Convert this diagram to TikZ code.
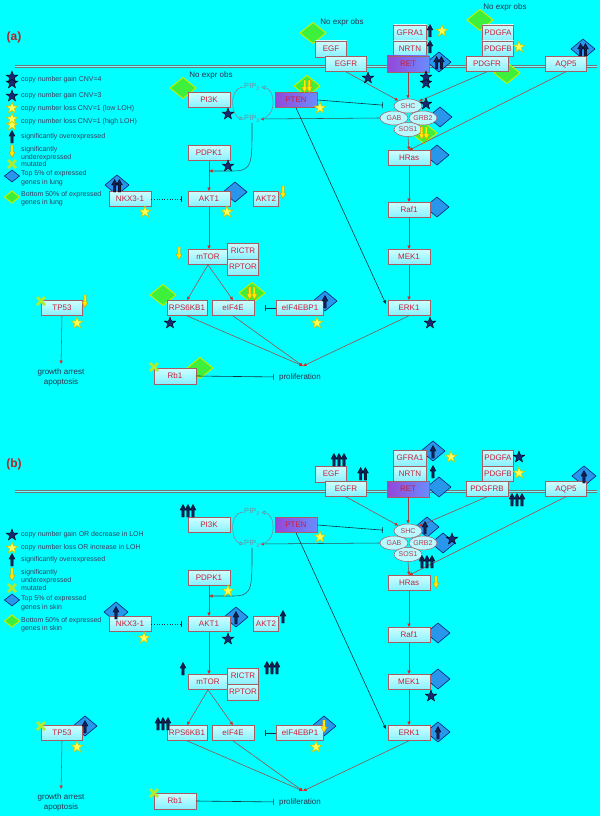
\documentclass[tikz,border=0pt]{standalone}
\usepackage{fontspec}
\setmainfont{Liberation Sans}
\usetikzlibrary{shapes.geometric,arrows.meta}

\definecolor{bgc}{RGB}{0,255,255}
\definecolor{boxtop}{RGB}{205,255,255}
\definecolor{boxbot}{RGB}{135,240,255}
\definecolor{boxline}{RGB}{165,95,100}
\definecolor{genetxt}{RGB}{205,30,55}
\definecolor{edgec}{RGB}{160,70,70}
\definecolor{tipc}{RGB}{230,30,30}
\definecolor{darkc}{RGB}{20,50,60}
\definecolor{legc}{RGB}{60,60,95}
\definecolor{pleft}{RGB}{150,70,215}
\definecolor{pright}{RGB}{105,140,255}
\definecolor{navyc}{RGB}{25,40,115}
\definecolor{bdfill}{RGB}{40,150,235}
\definecolor{bdline}{RGB}{0,40,120}
\definecolor{gdfill}{RGB}{60,240,60}
\definecolor{gdline}{RGB}{200,240,0}
\definecolor{ystarc}{RGB}{255,255,90}
\definecolor{ystarl}{RGB}{200,200,0}
\definecolor{yarrow}{RGB}{255,235,0}
\definecolor{yarrowl}{RGB}{215,150,0}
\definecolor{xgreen}{RGB}{175,238,45}
\definecolor{pipc}{RGB}{115,140,160}
\definecolor{labred}{RGB}{190,30,30}
\definecolor{membc}{RGB}{110,120,120}

\tikzset{
  gene/.style={draw=boxline, line width=0.6pt, top color=boxtop, bottom color=boxbot,
    text=genetxt, font=\fontsize{8}{9}\selectfont, inner sep=0pt,
    minimum width=42pt, minimum height=15pt},
  pgene/.style={gene, left color=pleft, right color=pright},
  ell/.style={ellipse, draw=boxline, line width=0.5pt, fill=boxtop!70!boxbot,
    text=genetxt!70!gray, font=\fontsize{7}{8}\selectfont, inner sep=0pt,
    minimum width=28pt, minimum height=14pt},
  act/.style={draw=edgec, line width=0.55pt, -{Latex[length=3.5pt,width=3.5pt,color=tipc]}},
  dact/.style={draw=darkc!85, line width=0.55pt, -{Latex[length=3.5pt,width=3.5pt,color=tipc]}},
  inh/.style={draw=darkc, line width=0.6pt, -{Bar[width=6pt]}},
  leg/.style={anchor=west, inner sep=0pt, text=legc, font=\fontsize{7}{8}\selectfont},
  lab/.style={inner sep=0pt, text=legc!80!black, font=\fontsize{8}{10}\selectfont},
  pipt/.style={inner sep=0.5pt, text=pipc, font=\fontsize{7.5}{9}\selectfont},
  cyc/.style={draw=pipc, line width=0.6pt, -{Triangle[open, length=4pt, width=4pt]}},
  membrane/.style={draw=membc, line width=0.6pt, double=bgc!55!white, double distance=1.4pt},
  panlab/.style={inner sep=0pt, text=labred, font=\bfseries\fontsize{12}{14}\selectfont},
  dstar/.pic={\filldraw[fill=navyc, draw=black, line width=0.4pt]
    (-90:6) -- (-54:2.5) -- (-18:6) -- (18:2.5) -- (54:6) -- (90:2.5) -- (126:6) -- (162:2.5) -- (198:6) -- (234:2.5) -- cycle;},
  ystar/.pic={\filldraw[fill=ystarc, draw=ystarl, line width=0.6pt]
    (-90:6) -- (-54:2.5) -- (-18:6) -- (18:2.5) -- (54:6) -- (90:2.5) -- (126:6) -- (162:2.5) -- (198:6) -- (234:2.5) -- cycle;},
  ddstar/.pic={\pic at (0,3) {dstar}; \pic at (0,-3) {dstar};},
  dystar/.pic={\pic at (0,3) {ystar}; \pic at (0,-3) {ystar};},
  uparr/.pic={\filldraw[fill=navyc!75!black, draw=black, line width=0.3pt]
    (-1.2,6) -- (-1.2,-1) -- (-3,-1) -- (0,-6.5) -- (3,-1) -- (1.2,-1) -- (1.2,6) -- cycle;},
  dnarr/.pic={\filldraw[fill=yarrow, draw=yarrowl, line width=0.4pt]
    (-1.2,-6) -- (-1.2,1) -- (-3,1) -- (0,6.5) -- (3,1) -- (1.2,1) -- (1.2,-6) -- cycle;},
  uptwo/.pic={\pic at (-2.4,0) {uparr}; \pic at (2.4,0) {uparr};},
  upthree/.pic={\pic at (-5,0) {uparr}; \pic at (0,0) {uparr}; \pic at (5,0) {uparr};},
  dntwo/.pic={\pic at (-2.4,0) {dnarr}; \pic at (2.4,0) {dnarr};},
  gx/.pic={\draw[xgreen, line width=2.6pt] (-4,-4) -- (4,4) (-4,4) -- (4,-4);},
  bdiam/.pic={\filldraw[fill=bdfill, draw=bdline, line width=0.6pt] (-12,0) -- (0,-10) -- (12,0) -- (0,10) -- cycle;},
  gdiam/.pic={\filldraw[fill=gdfill, draw=gdline, line width=0.9pt] (-13,0) -- (0,-10.5) -- (13,0) -- (0,10.5) -- cycle;},
  bdiams/.pic={\filldraw[fill=bdfill, draw=bdline, line width=0.6pt] (-7.5,0) -- (0,-6) -- (7.5,0) -- (0,6) -- cycle;},
  gdiams/.pic={\filldraw[fill=gdfill, draw=gdline, line width=0.9pt] (-7.5,0) -- (0,-6) -- (7.5,0) -- (0,6) -- cycle;},
}

\newcommand{\drawpathway}[1]{%
  \node[gene] (PI3K) at (209,100) {PI3K};
  \node[pgene] (PTEN) at (296,100) {PTEN};
  \node[pipt] (PIP2) at (252,87) {PIP\textsubscript{2}};
  \node[pipt] (PIP3) at (252,119) {PIP\textsubscript{3}};
  \node[gene] (PDPK1) at (209,153) {PDPK1};
  \node[gene] (AKT1) at (209,199) {AKT1};
  \node[gene, minimum width=25pt] (AKT2) at (266,199) {AKT2};
  \node[gene] (NKX) at (130,199) {NKX3-1};
  \node[gene, minimum width=40pt] (mTOR) at (208,257) {mTOR};
  \node[gene, minimum width=31pt, minimum height=16pt] (RICTR) at (243,251) {RICTR};
  \node[gene, minimum width=31pt, minimum height=16pt] (RPTOR) at (243,267) {RPTOR};
  \node[gene, minimum width=40pt] (RPS) at (187,308) {RPS6KB1};
  \node[gene] (EIF) at (233,308) {eIF4E};
  \node[gene, minimum width=47pt] (EBP) at (300,308) {eIF4EBP1};
  \node[gene, minimum width=41pt] (TP53) at (62,308) {TP53};
  \node[gene, minimum height=16pt] (Rb1) at (175,376) {Rb1};
  \node[gene, minimum width=31pt, minimum height=16pt] (EGF) at (331,49) {EGF};
  \node[gene, minimum width=41pt] (EGFR) at (346,64) {EGFR};
  \node[gene, minimum width=33pt, minimum height=16pt] (GFRA1) at (410,33) {GFRA1};
  \node[gene, minimum width=33pt] (NRTN) at (410,48.5) {NRTN};
  \node[pgene, minimum height=16pt] (RET) at (408,64) {RET};
  \node[gene, minimum width=31pt, minimum height=16pt] (PDGFA) at (498,33) {PDGFA};
  \node[gene, minimum width=31pt] (PDGFB) at (498,48.5) {PDGFB};
  \node[gene] (PDGFR) at (487,64) {#1};
  \node[gene, minimum width=41pt] (AQP5) at (566,64) {AQP5};
  \node[ell] (GAB) at (394,118) {GAB};
  \node[ell] (GRB2) at (423,118) {GRB2};
  \node[ell] (SHC) at (408,106) {SHC};
  \node[ell] (SOS1) at (408,129.5) {SOS1};
  \node[gene] (HRas) at (409,158) {HRas};
  \node[gene] (Raf1) at (409,210) {Raf1};
  \node[gene] (MEK1) at (409,257) {MEK1};
  \node[gene] (ERK1) at (409,308) {ERK1};
  \coordinate (prolif) at (303,366);
  \node[lab] (proliferation) at (300,377) {proliferation};
  \node[lab, align=center] (growth) at (61,377) {growth arrest\\apoptosis};
  \coordinate (akin) at (209,171);
  \coordinate (akbend) at (233,171);
  % edges
  \draw[act] (EGFR.south) -- (SHC);
  \draw[act] (RET.south) -- (SHC.north);
  \draw[act] (PDGFR.south) -- (SHC);
  \draw[act] (AQP5.south) -- (HRas.north);
  \draw[act] (SOS1.south) -- (HRas.north);
  \draw[act] (HRas) -- (Raf1);
  \draw[act] (Raf1) -- (MEK1);
  \draw[act] (MEK1) -- (ERK1);
  \draw[inh, shorten >=11pt] (PTEN.east) -- (SHC.west);
  \draw[dact] (GAB.west) -- (PIP3.east);
  \draw[draw=darkc, line width=0.6pt, -{Latex[length=4pt,width=3.5pt]}, shorten >=4pt] (PTEN.south) -- (ERK1.west);
  \draw[cyc] (PIP2.west) .. controls +(-16,1) and +(-12,-2) .. (PIP3.west);
  \draw[cyc, shorten >=1pt] (PIP3.east) .. controls +(17,-1) and +(15,2) .. (PIP2.east);
  \draw[dact] (PIP3.south) .. controls +(0,40) and +(20,0) .. (akbend) -- (akin);
  \draw[act] (PDPK1.south) -- (AKT1.north);
  \draw[inh, dotted, line width=0.5pt, shorten >=6pt] (NKX.east) -- (AKT1.west);
  \draw[act] (AKT1.south) -- (AKT1.south |- mTOR.north);
  \draw[act] (mTOR.south) -- (RPS.north);
  \draw[act] (mTOR.south) -- (EIF.north);
  \draw[inh, shorten >=11pt] (EBP.west) -- (EIF.east);
  \draw[act] (RPS.south) -- (prolif);
  \draw[act] (EIF.south) -- (prolif);
  \draw[act] (ERK1.south) -- (prolif);
  \draw[inh, shorten >=5pt] (Rb1.east) -- (proliferation.west);
  \draw[act, shorten >=4pt] (TP53.south) -- (growth.north);
}

\begin{document}
\begin{tikzpicture}[x=1pt,y=-1pt]
\fill[bgc] (0,0) rectangle (600,816);
\useasboundingbox (0,0) rectangle (600,816);

% panel labels and membranes
\node[panlab] (lbla) at (14,37) {(a)};
\node[panlab] (lblb) at (14,464) {(b)};
\draw[membrane] (15,66.5) -- (597,66.5);
\draw[membrane] (15,491.5) -- (597,491.5);

% ---------- diamonds (behind boxes) ----------
% panel (a)
\pic at (183,88) {gdiam};
\pic at (307,86) {gdiam};
\pic at (163,295) {gdiam};
\pic at (252,293) {gdiam};
\pic at (200,368) {gdiam};
\pic at (313,33) {gdiam};
\pic at (480,20) {gdiam};
\pic at (507,73) {gdiam};
\pic at (424,133) {gdiam};
\pic at (235,192) {bdiam};
\pic at (117,185) {bdiam};
\pic at (439,62) {bdiam};
\pic at (583,49) {bdiam};
\pic at (325,301) {bdiam};
\pic at (440,117) {bdiam};
\pic at (437,155) {bdiam};
\pic at (437,207) {bdiam};
% panel (b)
\pic at (433,451) {bdiam};
\pic at (584,476) {bdiam};
\pic at (116,612) {bdiam};
\pic at (236,617) {bdiam};
\pic at (85,726) {bdiam};
\pic at (438,732) {bdiam};
\pic at (427,527) {bdiam};
\pic at (324,726) {bdiam};
\pic at (439,487) {bdiam};
\pic at (443,543) {bdiam};
\pic at (438,633) {bdiam};
\pic at (438,679) {bdiam};

% ---------- pathways ----------
\begin{scope}[name prefix=a-]
  \drawpathway{PDGFR}
\end{scope}
\begin{scope}[yshift=-425pt, name prefix=b-]
  \drawpathway{PDGFRB}
\end{scope}

% ---------- panel (a) markers ----------
\node[lab] (noexa1) at (211,75) {No expr obs};
\node[lab] (noexa2) at (342,22) {No expr obs};
\node[lab] (noexa3) at (505,7) {No expr obs};
\foreach \p in {(228,114),(228,166),(170,323),(430,323),(368,78),(426,104)} \pic at \p {dstar};
\pic at (426,80) {ddstar};
\foreach \p in {(145,212),(227,212),(77,323),(317,323),(320,108),(442,31),(519,47)} \pic at \p {ystar};
\foreach \p in {(430,31),(430,47),(325,302)} \pic at \p {uparr};
\foreach \p in {(117,186),(439,63),(583,50)} \pic at \p {uptwo};
\foreach \p in {(283,192),(179,253),(85,301)} \pic at \p {dnarr};
\foreach \p in {(307,86),(252,293),(424,133)} \pic at \p {dntwo};
\foreach \p in {(41,301),(154,367)} \pic at \p {gx};

% ---------- panel (b) markers ----------
\foreach \p in {(188,511),(339,460),(517,500),(272,668),(163,724),(427,562)} \pic at \p {upthree};
\pic at (363,474) {uptwo};
\foreach \p in {(433,472),(283,617),(183,669),(433,452),(584,477),(116,613),(236,618),(85,727),(438,733),(425,528)} \pic at \p {uparr};
\foreach \p in {(436,582),(324,726)} \pic at \p {dnarr};
\foreach \p in {(452,539),(519,457),(228,639),(431,696)} \pic at \p {dstar};
\foreach \p in {(451,457),(519,473),(320,537),(228,591),(144,638),(77,747),(316,747)} \pic at \p {ystar};
\foreach \p in {(41,726),(154,793)} \pic at \p {gx};

% ---------- legend (a) ----------
\pic at (12,80) {ddstar};
\pic at (12,96) {dstar};
\pic at (12,108) {ystar};
\pic at (12,122) {dystar};
\pic at (12,137) {uparr};
\pic at (12,151) {dnarr};
\pic at (12,164) {gx};
\pic at (12,176) {bdiams};
\pic at (12,197) {gdiams};
\node[leg] (la1) at (21,80) {copy number gain CNV=4};
\node[leg] (la2) at (21,96) {copy number gain CNV=3};
\node[leg] (la3) at (21,109) {copy number loss CNV=1 (low LOH)};
\node[leg] (la4) at (21,122) {copy number loss CNV=1 (high LOH)};
\node[leg] (la5) at (21,137) {significantly overexpressed};
\node[leg] (la6) at (21,150) {significantly};
\node[leg] (la7) at (21,158) {underexpressed};
\node[leg] (la8) at (21,164) {mutated};
\node[leg] (la9) at (21,174) {Top 5\% of expressed};
\node[leg] (la10) at (21,183) {genes in lung};
\node[leg] (la11) at (21,195) {Bottom 50\% of expressed};
\node[leg] (la12) at (21,203) {genes in lung};

% ---------- legend (b) ----------
\pic at (12,535) {dstar};
\pic at (12,548) {ystar};
\pic at (12,560) {uparr};
\pic at (12,574) {dnarr};
\pic at (12,588) {gx};
\pic at (12,600) {bdiams};
\pic at (12,621) {gdiams};
\node[leg] (lb1) at (21,535) {copy number gain OR decrease in LOH};
\node[leg] (lb2) at (21,548) {copy number loss OR increase in LOH};
\node[leg] (lb3) at (21,560) {significantly overexpressed};
\node[leg] (lb4) at (21,573) {significantly};
\node[leg] (lb5) at (21,581) {underexpressed};
\node[leg] (lb6) at (21,588) {mutated};
\node[leg] (lb7) at (21,599) {Top 5\% of expressed};
\node[leg] (lb8) at (21,608) {genes in skin};
\node[leg] (lb9) at (21,621) {Bottom 50\% of expressed};
\node[leg] (lb10) at (21,629) {genes in skin};
\end{tikzpicture}
\end{document}
